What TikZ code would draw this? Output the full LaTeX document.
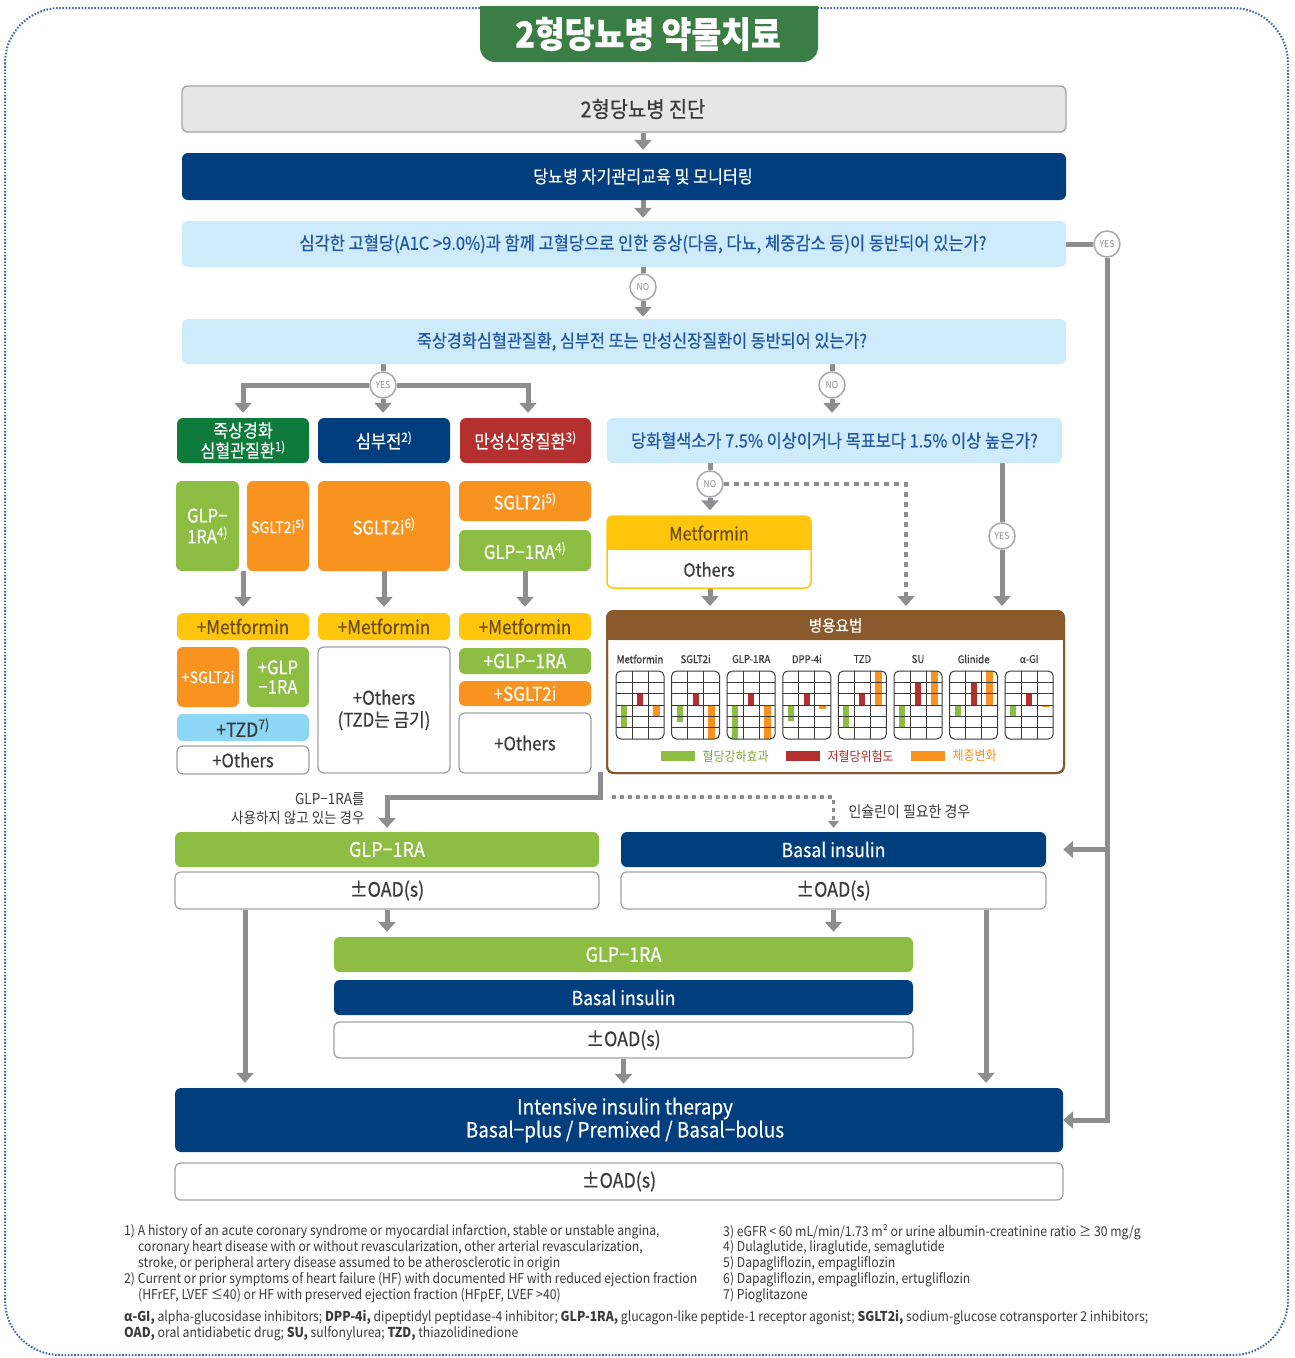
\documentclass[tikz,border=0pt]{standalone}
\usepackage{fontspec}
\setmainfont{Noto Sans CJK KR}[FakeStretch=0.9,FakeBold=0.45]
\newfontfamily\fnfont{Noto Sans CJK KR}[FakeStretch=0.9]
\usetikzlibrary{arrows.meta,backgrounds}
\definecolor{navy}{HTML}{003E7E}
\definecolor{lblue}{HTML}{CDEBFA}
\definecolor{qtext}{HTML}{1F55A3}
\definecolor{agray}{HTML}{8E8E90}
\definecolor{circline}{HTML}{A8A8AA}
\definecolor{bgray}{HTML}{E6E6E7}
\definecolor{boxline}{HTML}{A3A3A5}
\definecolor{cvgreen}{HTML}{0E7A3C}
\definecolor{ckdred}{HTML}{B4302E}
\definecolor{orng}{HTML}{F7931E}
\definecolor{glpgreen}{HTML}{8DBD43}
\definecolor{ylw}{HTML}{FFC60B}
\definecolor{tzdblue}{HTML}{8ED6F6}
\definecolor{brwn}{HTML}{8A5A2C}
\definecolor{tgreen}{HTML}{3B7E45}
\definecolor{bordblue}{HTML}{3D66B0}
\definecolor{dtext}{HTML}{3A3A3A}
\definecolor{mettext}{HTML}{6A4E16}
\definecolor{gridc}{HTML}{3A3A3A}
\newcommand\fz[2]{\fontsize{#1}{#2}\selectfont}
\newcommand\sps[1]{\textsuperscript{#1}}
\begin{document}
\begin{tikzpicture}[x=1pt,y=-1pt,
 bx/.style 2 args={minimum width=#1pt,minimum height=#2pt,rounded corners=6pt,inner sep=0pt,align=center},
 wb/.style={draw=boxline,line width=1.3pt,fill=white,text=dtext},
 arr/.style={draw=agray,line width=5pt,-{Triangle[width=17pt,length=10pt]},shorten >=5pt},
 ln/.style={draw=agray,line width=5pt},
 dotarr/.style={draw=agray,line width=4.5pt,dash pattern=on 5pt off 5pt,-{Triangle[width=17pt,length=10pt]},shorten >=5pt},
 dotarrs/.style={draw=agray,line width=3.5pt,dash pattern=on 4pt off 4pt,-{Triangle[width=11pt,length=7pt]},shorten >=4pt},
 circ/.style={circle,draw=circline,line width=1.5pt,fill=white,minimum size=26pt,inner sep=0pt,text=agray,font=\fnfont\fz{9.5}{9.5}},
 f19/.style={font=\fz{19}{22}},
 fn/.style={anchor=west,inner sep=0pt,text=dtext,font=\fnfont\fz{13.6}{16}},
]
\useasboundingbox (0,0) rectangle (1294,1358);

% title tab
\begin{scope}
\clip (470,6) rectangle (830,70);
\fill[tgreen,rounded corners=15pt] (480,-30) rectangle (818,62);
\end{scope}
\node[font=\bfseries\fz{36}{38},text=white] (title) at (648,34) {2형당뇨병 약물치료};

% top chain
\node[bx={884}{46},fill=bgray,draw=boxline,line width=1.3pt,text=dtext,font=\fz{22}{26}] (diag) at (624,109) {\hspace*{38pt}2형당뇨병 진단};
\node[bx={884}{47},fill=navy,text=white,font=\fz{18}{22}] (edu) at (624,176.5) {\hspace*{38pt}당뇨병 자기관리교육 및 모니터링};
\node[bx={884}{46},fill=lblue,text=qtext,font=\fz{18.3}{22}] (q1) at (624,244) {\hspace*{38pt}심각한 고혈당(A1C >9.0\%)과 함께 고혈당으로 인한 증상(다음, 다뇨, 체중감소 등)이 동반되어 있는가?};
\node[bx={884}{45},fill=lblue,text=qtext,font=\fz{18.1}{22}] (q2) at (624,341.5) {\hspace*{36pt}죽상경화심혈관질환, 심부전 또는 만성신장질환이 동반되어 있는가?};

\node[circ] (yes1) at (1107,244) {YES};
\node[circ] (no1) at (643,287) {NO};
\node[circ] (yes2) at (383,385) {YES};
\node[circ] (no2) at (832,385) {NO};
\node[circ] (no3) at (710,484) {NO};
\node[circ] (yes3) at (1002,536) {YES};

% disease boxes
\node[bx={132}{45},fill=cvgreen,text=white,font=\fz{18}{20}] (cv) at (243,440.5) {죽상경화\\심혈관질환\sps{1)}};
\node[bx={132}{45},fill=navy,text=white,font=\fz{18.4}{20}] (hf) at (384,440.5) {심부전\sps{2)}};
\node[bx={131}{45},fill=ckdred,text=white,font=\fz{18.4}{20}] (ckd) at (525.5,440.5) {만성신장질환\sps{3)}};
\node[bx={455}{45},fill=lblue,text=qtext,font=\fz{18.2}{22}] (q3) at (834.5,440.5) {당화혈색소가 7.5\% 이상이거나 목표보다 1.5\% 이상 높은가?};

% first-line drugs
\node[bx={63}{90},fill=glpgreen,text=white,font=\fz{18.5}{21},align=left] (glp1a) at (207.5,526) {GLP−\\1RA\sps{4)}};
\node[bx={62}{90},fill=orng,text=white,font=\fz{15.8}{18}] (sglt1a) at (278,526) {SGLT2i\sps{5)}};
\node[bx={132}{90},fill=orng,text=white,font=\fz{18.5}{22}] (sglt2a) at (384,526) {SGLT2i\sps{6)}};
\node[bx={132}{40},fill=orng,text=white,font=\fz{18.5}{22}] (sglt3a) at (525,501) {SGLT2i\sps{5)}};
\node[bx={132}{41},fill=glpgreen,text=white,font=\fz{18.8}{22}] (glp3a) at (525,550.5) {GLP−1RA\sps{4)}};

% add-on
\node[bx={132}{27},fill=ylw,text=mettext,f19] (met1) at (243,626.5) {+Metformin};
\node[bx={132}{27},fill=ylw,text=mettext,f19] (met2) at (384,626.5) {+Metformin};
\node[bx={132}{27},fill=ylw,text=mettext,f19] (met3) at (525,626.5) {+Metformin};
\node[bx={62}{60},fill=orng,text=white,font=\fz{16}{18}] (sglt1b) at (208,677) {+SGLT2i};
\node[bx={62}{60},fill=glpgreen,text=white,font=\fz{18.5}{19.5}] (glp1b) at (278,677) {+GLP\\−1RA};
\node[bx={132}{27},fill=tzdblue,text=dtext,font=\fz{19.5}{22}] (tzd1) at (243,727.5) {+TZD\sps{7)}};
\node[bx={132}{28},wb,font=\fz{18.5}{22}] (oth1) at (243,760) {+Others};
\node[bx={132}{126},wb,font=\fz{18.8}{22}] (oth2) at (384,710) {+Others\\(TZD는 금기)};
\node[bx={132}{26},fill=glpgreen,text=white,font=\fz{19.3}{22}] (glp3b) at (525,661) {+GLP−1RA};
\node[bx={132}{25},fill=orng,text=white,font=\fz{19}{22}] (sglt3b) at (525,693.5) {+SGLT2i};
\node[bx={132}{60},wb,font=\fz{18.5}{22}] (oth3) at (525,743) {+Others};

% metformin / others
\node[bx={204}{72},draw=ylw,line width=1.5pt,fill=white] (metoth) at (709,552) {};
\fill[ylw,rounded corners=6pt] (607,516) rectangle (811,550);
\fill[ylw] (607,535) rectangle (811,550);
\node[text=mettext,font=\fz{18.2}{22}] (mett) at (709,533) {Metformin};
\node[text=dtext,font=\fz{18.2}{22}] (otht) at (709,569.5) {Others};

% combination therapy
\node[bx={457}{162},draw=brwn,line width=2pt,fill=white,rounded corners=7pt] (combo) at (835.5,692) {};
\fill[brwn,rounded corners=7pt] (607,611) rectangle (1064,640);
\fill[brwn] (607,625) rectangle (1064,640);
\draw[brwn,line width=2pt,rounded corners=7pt] (607,611) rectangle (1064,773);
\node[text=white,font=\fz{16.2}{18}] (combot) at (835.5,625.5) {병용요법};
\foreach \i/\lab/\g/\r/\o in {0/Metformin/2/1/-1,1/SGLT2i/1.5/1/-3,2/GLP-1RA/3/1/-3,3/DPP-4i/1.4/1/-0.35,4/TZD/2/1/3,5/SU/2/2/3,6/Glinide/1/2/3,7/α-GI/1/1/-0.2}{
  \pgfmathsetmacro\xo{616+\i*55.6}
  \pgfmathsetmacro\gy{705+\g*11.33}
  \pgfmathsetmacro\ry{705-\r*11.33}
  \pgfmathsetmacro\oy{705-1*\o*11.33}
  \node[text=dtext,font=\fz{10.7}{12}] (lab\i) at (\xo+24,659) {\lab};
  \fill[glpgreen] (\xo+5,705) rectangle (\xo+11,\gy);
  \fill[ckdred] (\xo+21,705) rectangle (\xo+27,\ry);
  \fill[orng] (\xo+36.5,705) rectangle (\xo+43.5,\oy);
  \foreach \k in {1,...,5}{\draw[gridc,line width=0.8pt] (\xo,671+\k*11.33) -- (\xo+48,671+\k*11.33);}
  \draw[gridc,line width=0.8pt] (\xo+16,671) -- (\xo+16,739);
  \draw[gridc,line width=0.8pt] (\xo+32,671) -- (\xo+32,739);
  \draw[gridc,line width=1pt,rounded corners=5pt] (\xo,671) rectangle (\xo+48,739);
}
\fill[glpgreen] (661,751) rectangle (695,761);
\node[anchor=west,text=glpgreen!90!black,font=\fnfont\fz{13.3}{15}] (lg1) at (699,756) {혈당강하효과};
\fill[ckdred] (786,751) rectangle (820,761);
\node[anchor=west,text=ckdred,font=\fnfont\fz{13.3}{15}] (lg2) at (824,756) {저혈당위험도};
\fill[orng] (911,751) rectangle (945,761);
\node[anchor=west,text=orng,font=\fnfont\fz{13.3}{15}] (lg3) at (949,756) {체중변화};

% labels
\node[anchor=east,align=right,text=dtext,font=\fnfont\fz{15}{19}] (lbl1) at (368,808.5) {GLP−1RA를\\사용하지 않고 있는 경우};
\node[anchor=west,text=dtext,font=\fnfont\fz{15.5}{17}] (lbl2) at (845,812) {인슐린이 필요한 경우};

% lower boxes
\node[bx={424}{35},fill=glpgreen,text=white,font=\fz{20}{22}] (glpL) at (387,849.5) {GLP−1RA};
\node[bx={424}{37},wb,font=\fz{19.8}{22}] (oadL) at (387,890.5) {±OAD(s)};
\node[bx={425}{35},fill=navy,text=white,font=\fz{19.6}{22}] (basR) at (833.5,849.5) {Basal insulin};
\node[bx={425}{37},wb,font=\fz{19.8}{22}] (oadR) at (833.5,890.5) {±OAD(s)};
\node[bx={579}{35},fill=glpgreen,text=white,font=\fz{20}{22}] (glpM) at (623.5,954.5) {GLP−1RA};
\node[bx={579}{35},fill=navy,text=white,font=\fz{19.6}{22}] (basM) at (623.5,997.5) {Basal insulin};
\node[bx={579}{36},wb,font=\fz{19.8}{22}] (oadM) at (623.5,1040) {±OAD(s)};
\node[bx={888}{64},fill=navy,text=white,font=\fz{21}{23}] (intens) at (619,1120) {\hspace*{12pt}Intensive insulin therapy\\\hspace*{12pt}Basal−plus / Premixed / Basal−bolus};
\node[bx={888}{37},wb,font=\fz{19.8}{22}] (oadB) at (619,1181.5) {±OAD(s)};

% footnotes
\node[fn] (fn1) at (124,1232) {1) A history of an acute coronary syndrome or myocardial infarction, stable or unstable angina,};
\node[fn] (fn2) at (138,1248) {coronary heart disease with or without revascularization, other arterial revascularization,};
\node[fn] (fn3) at (138,1264) {stroke, or peripheral artery disease assumed to be atherosclerotic in origin};
\node[fn] (fn4) at (124,1280) {2) Current or prior symptoms of heart failure (HF) with documented HF with reduced ejection fraction};
\node[fn] (fn5) at (138,1296) {(HFrEF, LVEF ≤40) or HF with preserved ejection fraction (HFpEF, LVEF >40)};
\node[fn] (fn6) at (723,1232) {3) eGFR < 60 mL/min/1.73 m² or urine albumin-creatinine ratio ≥ 30 mg/g};
\node[fn] (fn7) at (723,1248) {4) Dulaglutide, liraglutide, semaglutide};
\node[fn] (fn8) at (723,1264) {5) Dapagliflozin, empagliflozin};
\node[fn] (fn9) at (723,1280) {6) Dapagliflozin, empagliflozin, ertugliflozin};
\node[fn] (fn10) at (723,1296) {7) Pioglitazone};
\node[fn] (fn11) at (124,1318) {\textbf{α-GI,} alpha-glucosidase inhibitors; \textbf{DPP-4i,} dipeptidyl peptidase-4 inhibitor; \textbf{GLP-1RA,} glucagon-like peptide-1 receptor agonist; \textbf{SGLT2i,} sodium-glucose cotransporter 2 inhibitors;};
\node[fn] (fn12) at (124,1334) {\textbf{OAD,} oral antidiabetic drug; \textbf{SU,} sulfonylurea; \textbf{TZD,} thiazolidinedione};

\coordinate (j1) at (600,772);
\coordinate (j2) at (600,797);
\coordinate (j3) at (612,797);
\path ([xshift=-142pt]oadL.south) coordinate (l1);
\path ([xshift=152.5pt]oadR.south) coordinate (r1);

\begin{pgfonlayer}{background}
\draw[bordblue,line width=2pt,dash pattern=on 1.6pt off 1.6pt,rounded corners=55pt] (5,8) rectangle (1288,1355);
\draw[arr,shorten >=3pt] (diag.south -| no1) -- (edu.north -| no1);
\draw[arr,shorten >=3pt] (edu.south -| no1) -- (q1.north -| no1);
\draw[ln] (q1.south -| no1) -- (no1);
\draw[arr,shorten >=2pt] (no1) -- (q2.north -| no1);
\draw[ln] (q1.east) -- (yes1);
\draw[arr,shorten >=0pt] (yes1) |- (intens.east);
\draw[arr,shorten >=0pt] (yes1 |- basR.east) -- ([xshift=17pt]basR.east);
\draw[ln] (q2.south -| yes2) -- (yes2);
\draw[arr] (yes2) -| (cv.north);
\draw[arr] (yes2) -- (hf.north -| yes2);
\draw[arr] (yes2) -| ([xshift=2.5pt]ckd.north);
\draw[ln] (q2.south -| no2) -- (no2);
\draw[arr] (no2) -- (q3.north -| no2);
\draw[arr,shorten >=6pt] (cv.center |- glp1a.south) -- (met1.north -| cv.center);
\draw[arr,shorten >=6pt] (sglt2a.south) -- (met2.north);
\draw[arr,shorten >=6pt] (glp3a.south) -- (met3.north);
\draw[ln] (q3.south -| no3) -- (no3);
\draw[arr] (no3) -- (metoth.north -| no3);
\draw[dotarr,shorten >=4pt] (no3.east) -| ([xshift=70.5pt]combo.north);
\draw[ln] (q3.south -| yes3) -- (yes3);
\draw[arr,shorten >=4pt] (yes3) -- (combo.north -| yes3);
\draw[arr,shorten >=4pt] (metoth.south -| no3) -- (combo.north -| no3);
\draw[arr,shorten >=4pt] (j1) -- (j2) -| (glpL.north);
\draw[dotarrs] (j3) -| (basR.north);
\draw[arr] (oadL.south) -- (glpM.north -| oadL.south);
\draw[arr] (oadR.south) -- (glpM.north -| oadR.south);
\draw[arr] (l1) -- (intens.north -| l1);
\draw[arr] (r1) -- (intens.north -| r1);
\draw[arr,shorten >=4pt] (oadM.south) -- (intens.north -| oadM.south);
\end{pgfonlayer}
\end{tikzpicture}
\end{document}
